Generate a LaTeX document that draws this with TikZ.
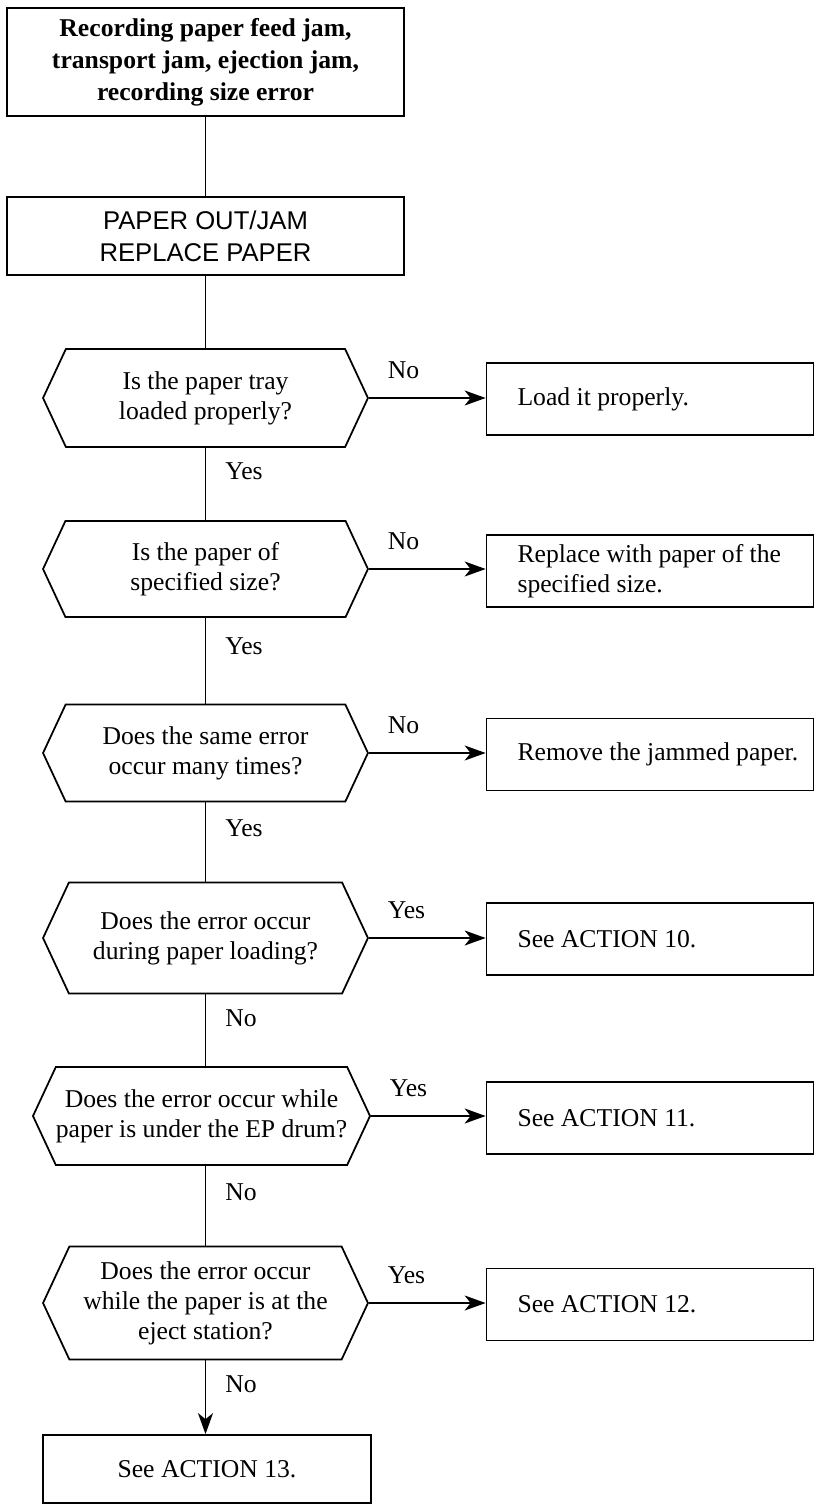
\documentclass[tikz,border=0pt]{standalone}
\usepackage{fontspec}
\setmainfont{Liberation Serif}
\setsansfont{Liberation Sans}
\usepackage{tikz}
\usetikzlibrary{positioning, arrows.meta, shapes.symbols}

\begin{document}
\begin{tikzpicture}[x=0.02cm, y=-0.02cm, line width=1pt,
    font=\fontsize{14.6pt}{17pt}\selectfont,
    headbox/.style={draw, align=center, minimum width=7.94cm},
    question/.style={draw, signal, signal to=west and east, signal pointer angle=130,
        minimum width=6.5cm, align=center, inner sep=0pt},
    action/.style={draw, minimum height=1.44cm, text width=6.54cm, inner xsep=0pt,
        align=flush left,
        execute at begin node={\leftskip=0.62cm\rightskip=0pt plus 1fil\parfillskip=0pt plus 1fil}},
    arrow/.style={-{Stealth[length=0.42cm, width=0.3cm, inset=0.12cm]}},
    sidelbl/.style={pos=0, anchor=west, inner sep=0pt, xshift=0.36cm, yshift=0.56cm},
    downlbl/.style={pos=0.33, anchor=west, inner sep=0pt, xshift=0.38cm}]

    \useasboundingbox (0,0) rectangle (822,1504);

    % Heading boxes
    \node[headbox, minimum height=2.16cm, font=\fontsize{14.6pt}{18.2pt}\selectfont\bfseries]
        (jam) at (205.5, 62) {Recording paper feed jam,\\transport jam, ejection jam,\\recording size error};
    \node[headbox, minimum height=1.56cm, font=\fontsize{14.6pt}{18.2pt}\selectfont\sffamily]
        (paperout) at (205.5, 236) {PAPER OUT/JAM\\REPLACE PAPER};

    % Questions
    \node[question, minimum height=1.96cm] (tray) at (205.5, 398) {Is the paper tray\\loaded properly?};
    \node[question, minimum height=1.92cm] (size) at (205.5, 569) {Is the paper of\\specified size?};
    \node[question, minimum height=1.94cm] (many) at (205.5, 753) {Does the same error\\occur many times?};
    \node[question, minimum height=2.22cm] (loading) at (205.5, 938) {Does the error occur\\during paper loading?};
    \node[question, minimum height=1.96cm, minimum width=6.62cm] (drum) at (201.5, 1116) {Does the error occur while\\paper is under the EP drum?};
    \node[question, minimum height=2.26cm] (eject) at (205.5, 1303) {Does the error occur\\while the paper is at the\\eject station?};

    % Actions
    \node[action] (loadit) at (650, 399) {Load it properly.};
    \node[action] (replace) at (650, 571) {Replace with paper of the\\specified size.};
    \node[action] (remove) at (650, 754.5) {Remove the jammed paper.};
    \node[action] (act10) at (650, 939) {See ACTION 10.};
    \node[action] (act11) at (650, 1118) {See ACTION 11.};
    \node[action] (act12) at (650, 1304.5) {See ACTION 12.};
    \node[draw, minimum width=6.56cm, minimum height=1.36cm] (act13) at (207, 1469) {See ACTION 13.};

    % Main line
    \draw (jam) -- (paperout);
    \draw (paperout.south) -- (tray.north);
    \draw (tray.south) -- node[downlbl] {Yes} (size.north);
    \draw (size.south) -- node[downlbl] {Yes} (many.north);
    \draw (many.south) -- node[downlbl] {Yes} (loading.north);
    \draw (loading.south) -- node[downlbl] {No} (loading.south |- drum.north);
    \draw (drum.south -| eject.north) -- node[downlbl] {No} (eject.north);
    \draw[arrow] (eject.south) -- node[downlbl] {No} (eject.south |- act13.north);

    % Branches
    \draw[arrow] (tray.east) -- node[sidelbl] {No} (tray.east -| loadit.west);
    \draw[arrow] (size.east) -- node[sidelbl] {No} (size.east -| replace.west);
    \draw[arrow] (many.east) -- node[sidelbl] {No} (many.east -| remove.west);
    \draw[arrow] (loading.east) -- node[sidelbl] {Yes} (loading.east -| act10.west);
    \draw[arrow] (drum.east) -- node[sidelbl] {Yes} (drum.east -| act11.west);
    \draw[arrow] (eject.east) -- node[sidelbl] {Yes} (eject.east -| act12.west);

\end{tikzpicture}
\end{document}
